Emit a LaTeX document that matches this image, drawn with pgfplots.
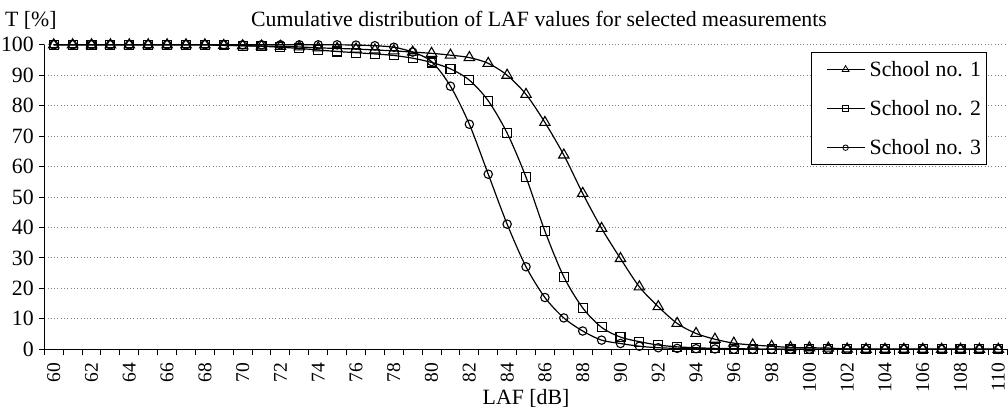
\documentclass[border=0pt]{standalone}
\usepackage{fontspec}
\setmainfont{Liberation Serif}
\usepackage{pgfplots}
\pgfplotsset{compat=1.18}
\usepackage{pgfplotstable}

\pgfplotstableread{
x s1 s2 s3
60 100 100 100
61 100 100 100
62 100 100 100
63 100 100 100
64 100 100 100
65 100 100 100
66 100 100 100
67 100 100 100
68 100 100 100
69 99.8 99.9 100
70 99.7 99.7 100
71 99.6 99.5 100
72 99.5 99.2 100
73 99.3 98.8 100
74 99.0 98.3 100
75 98.8 97.8 100
76 98.6 97.4 99.9
77 98.3 97.0 99.7
78 98.0 96.5 99.2
79 97.6 95.6 97.6
80 97.2 94.2 94.5
81 96.6 92.1 86.4
82 95.8 88.4 73.9
83 93.9 81.6 57.5
84 90.0 71.0 41.1
85 83.7 56.5 27.1
86 74.5 38.8 17.0
87 63.8 23.8 10.3
88 51.2 13.6 6.0
89 39.7 7.2 3.0
90 29.8 4.0 1.9
91 20.5 2.5 1.0
92 14.0 1.4 0.5
93 8.5 0.8 0.3
94 5.2 0.5 0.2
95 3.3 0.3 0.1
96 2.0 0.2 0
97 1.4 0.1 0
98 1.0 0 0
99 0.6 0 0
100 0.5 0 0
101 0.4 0 0
102 0.1 0 0
103 0 0 0
104 0 0 0
105 0 0 0
106 0 0 0
107 0 0 0
108 0 0 0
109 0 0 0
110 0 0 0
}\data

\newcommand{\bigfont}{\fontsize{21.8}{26}\selectfont}
\newcommand{\xtfont}{\fontsize{19.5}{23}\selectfont}

\begin{document}
\begin{tikzpicture}
\path[use as bounding box] (-44.3pt,-59.7pt) rectangle (963.75pt,349.3pt);
\begin{axis}[
  scale only axis, width=963.5pt, height=304.5pt,
  at={(0pt,0pt)}, anchor=south west,
  xmin=59.5, xmax=110.5, ymin=0, ymax=100,
  axis lines=left, axis line style={-, line width=1.1pt, black},
  xtick={60,62,...,110},
  minor xtick={59.5,60.5,...,110.5},
  ytick={0,10,...,100},
  tick align=outside,
  tick style={black, line width=1pt},
  major x tick style={draw=none},
  minor tick length=6pt, major tick length=5pt,
  ymajorgrids, xmajorgrids=false,
  major grid style={black!50, line width=0.9pt, dash pattern=on 1pt off 2.3pt},
  yticklabel style={font=\bigfont, xshift=-2pt},
  /pgf/number format/assume math mode=true,
  /pgf/number format/1000 sep={},
  xticklabel style={rotate=90, anchor=east, font=\xtfont},
  xticklabel shift=5pt,
  legend style={at={(0.978,0.9757)}, anchor=north east, draw=black, line width=0.9pt,
    fill=white, font=\bigfont, inner xsep=3pt, inner ysep=6.5pt, row sep=18.5pt, column sep=2.5pt},
  legend cell align=left,
  legend image code/.code={\path (0pt,0pt);\draw[mark repeat=2,mark phase=2] plot coordinates {(12pt,0pt) (31pt,0pt) (50pt,0pt)};},
  legend image post style={every mark/.append style={scale=0.65, line width=0.8pt}},
  every axis plot/.append style={black, line width=1.2pt, smooth},
]
\addplot[mark=triangle, mark size=6pt, mark options={fill=white, line width=1.1pt}] table[x=x, y=s1] {\data};
\addlegendentry{School no. 1}
\addplot[mark=square, mark size=4.5pt, mark options={fill=white, line width=1.1pt}] table[x=x, y=s2] {\data};
\addlegendentry{School no. 2}
\addplot[mark=o, mark size=4.2pt, mark options={fill=white, line width=1.1pt}] table[x=x, y=s3] {\data};
\addlegendentry{School no. 3}
\end{axis}
\node[anchor=base, font=\bigfont] at (494.7pt,322.8pt) {Cumulative distribution of LAF values for selected measurements};
\node[anchor=base west, font=\bigfont, inner sep=0pt] at (-39.3pt,322.8pt) {T [\%]};
\node[anchor=base, font=\bigfont] at (481.75pt,-55.3pt) {LAF [dB]};
\end{tikzpicture}
\end{document}
